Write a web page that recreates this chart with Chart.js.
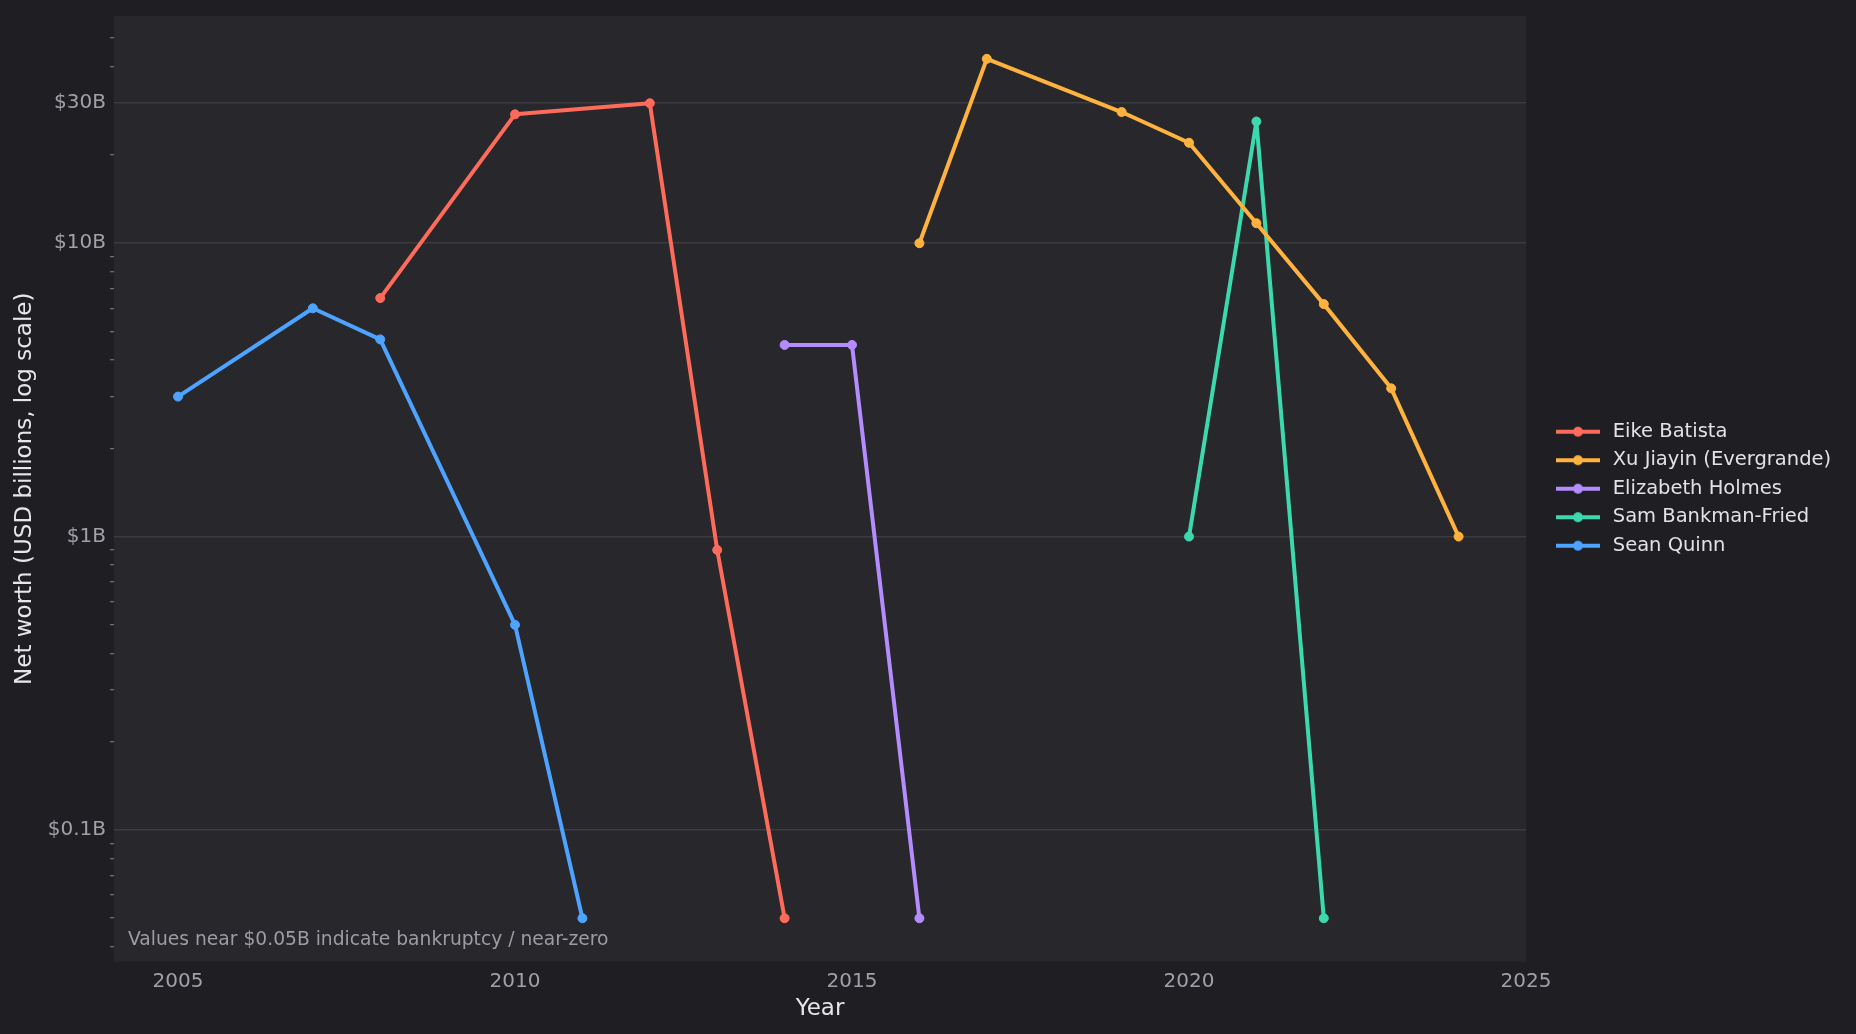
<!DOCTYPE html>
<html><head><meta charset="utf-8">
<script src="https://cdn.jsdelivr.net/npm/chart.js@4.4.1/dist/chart.umd.min.js"></script>
<style>html,body{margin:0;padding:0;background:#1f1f23;overflow:hidden}#wrap{width:1856px;height:1034px}</style>
</head><body><div id="wrap"><canvas id="c" width="1856" height="1034" style="width:1856px;height:1034px"></canvas></div>
<script>
const seriesNames = ['Eike Batista','Xu Jiayin (Evergrande)','Elizabeth Holmes','Sam Bankman-Fried','Sean Quinn'];
const seriesColors = ['#ff6b5b','#ffb23e','#b48cff','#3dd9ae','#4da3ff'];
const batistaYears = [2008,2010,2012,2013,2014];
const batistaValues = [6.5,27.5,30,0.9,0.05];
const xuYears = [2016,2017,2019,2020,2021,2022,2023,2024];
const xuValues = [10,42.5,28,22,11.7,6.2,3.2,1];
const holmesYears = [2014,2015,2016];
const holmesValues = [4.5,4.5,0.05];
const sbfYears = [2020,2021,2022];
const sbfValues = [1,26,0.05];
const quinnYears = [2005,2007,2008,2010,2011];
const quinnValues = [3,6,4.7,0.5,0.05];
const xTicks = [2005,2010,2015,2020,2025];
const yLabeledTicks = [0.1,1,10,30];
const yTickLabels = ['$0.1B','$1B','$10B','$30B'];
const xTitle = 'Year';
const yTitle = 'Net worth (USD billions, log scale)';
const noteText = 'Values near $0.05B indicate bankruptcy / near-zero';

const allYears = [batistaYears,xuYears,holmesYears,sbfYears,quinnYears];
const allValues = [batistaValues,xuValues,holmesValues,sbfValues,quinnValues];

const FONT = '"DejaVu Sans", sans-serif';
const legendFontSize = 19.5;
const legendPad = 9;
const boxW = 68;
const targetRight = 1526;

function labelIndex(v){ for(let i=0;i<yLabeledTicks.length;i++){ if(Math.abs(v-yLabeledTicks[i])/yLabeledTicks[i]<1e-6) return i;} return -1; }

const mctx = document.createElement('canvas').getContext('2d');
mctx.font = legendFontSize + 'px ' + FONT;
let maxW = 0; seriesNames.forEach(n=>{maxW=Math.max(maxW,mctx.measureText(n).width);});
const legendWidth = legendPad + boxW + legendFontSize/2 + maxW + 10;
const padRight = Math.max(0, 1856 - targetRight - legendWidth);
const legendLeft = 1856 - padRight - legendWidth;
const imgCenter = legendLeft + legendPad + boxW/2;
const wantCenter = 1578;
const off = wantCenter - imgCenter;

function legendImage(color){
  const cv = document.createElement('canvas');
  const w = Math.ceil(2*(22+Math.abs(off))+12); cv.width = w; cv.height = 12;
  const c = cv.getContext('2d');
  const cx = w/2 + off;
  c.strokeStyle = color; c.lineWidth = 4; c.lineCap='butt';
  c.beginPath(); c.moveTo(cx-22,6); c.lineTo(cx+22,6); c.stroke();
  c.fillStyle = color; c.beginPath(); c.arc(cx,6,5,0,Math.PI*2); c.fill();
  return cv;
}

const datasets = seriesNames.map((n,i)=>({
  label:n,
  data: allYears[i].map((yr,j)=>({x:yr,y:allValues[i][j]})),
  borderColor: seriesColors[i], backgroundColor: seriesColors[i],
  pointBackgroundColor: seriesColors[i], pointBorderColor: seriesColors[i],
  borderWidth:4, borderJoinStyle:'round', pointRadius:4.5, pointBorderWidth:1, tension:0, fill:false,
  legendImg: legendImage(seriesColors[i])
}));

const bgPlugin = {
  id:'bg',
  afterLayout(chart){
    if(chart.legend){ chart.legend.top = chart.chartArea.top; chart.legend.bottom = chart.chartArea.bottom; }
  },
  beforeDraw(chart){
    const {ctx, chartArea:a} = chart;
    ctx.save(); ctx.fillStyle = '#1f1f23'; ctx.fillRect(0,0,chart.width,chart.height);
    ctx.fillStyle = '#27272c'; ctx.fillRect(a.left,a.top,a.right-a.left,a.bottom-a.top); ctx.restore();
  },
  afterDatasetsDraw(chart){
    const {ctx, chartArea:a} = chart;
    ctx.save(); ctx.font = '18.7px ' + FONT; ctx.fillStyle = '#9c9ca3'; ctx.textBaseline='alphabetic'; ctx.textAlign='left';
    ctx.fillText(noteText, a.left+14, a.bottom-17); ctx.restore();
  }
};

new Chart(document.getElementById('c'), {
  type:'line',
  data:{datasets},
  plugins:[bgPlugin],
  options:{
    responsive:false, animation:false, devicePixelRatio:1,
    layout:{padding:{left:7,top:15,bottom:7.5,right:padRight}},
    plugins:{
      legend:{position:'right', align:'center',
        labels:{usePointStyle:true, pointStyleWidth:boxW, boxHeight:20, padding:legendPad, color:'#e2e2e6',
          font:{family:FONT,size:legendFontSize},
          generateLabels(chart){ return chart.data.datasets.map((d,i)=>({text:d.label, pointStyle:d.legendImg, fillStyle:d.borderColor, strokeStyle:d.borderColor, lineWidth:0, hidden:false, datasetIndex:i, fontColor:'#e2e2e6'})); }
        }},
      tooltip:{enabled:false}
    },
    scales:{
      x:{type:'linear', min:2004.05, max:2025,
        afterBuildTicks(s){ s.ticks = xTicks.map(v=>({value:v})); },
        afterFit(s){ s.height = 65; },
        grid:{display:false}, border:{display:false},
        ticks:{color:'#a0a0a7', font:{family:FONT,size:20}, padding:0, callback:v=>String(v), maxRotation:0},
        title:{display:true, text:xTitle, color:'#e6e6ea', font:{family:FONT,size:23}}
      },
      y:{type:'logarithmic', min:0.0356, max:59.5,
        afterBuildTicks(s){
          const t=[];
          for(let e=-2;e<=1;e++){ for(let m=1;m<=9;m++){ const v=+(m*Math.pow(10,e)).toPrecision(6); if(v>=s.min && v<=s.max) t.push({value:v, major: labelIndex(v)>=0}); } }
          s.ticks = t;
        },
        afterFit(s){ s.width = 107; },
        border:{display:false},
        grid:{drawTicks:true, tickLength:4, lineWidth:1.5, tickWidth:1,
          color:c=> (c.tick && labelIndex(c.tick.value)>=0) ? '#3b3b41' : 'rgba(0,0,0,0)',
          tickColor:c=> (c.tick && labelIndex(c.tick.value)>=0) ? 'rgba(0,0,0,0)' : '#85858c'},
        ticks:{color:'#a0a0a7', font:{family:FONT,size:20}, padding:4, autoSkip:false,
          callback:(v)=>{ const i=labelIndex(v); return i>=0 ? yTickLabels[i] : ''; }},
        title:{display:true, text:yTitle, color:'#e6e6ea', font:{family:FONT,size:23}}
      }
    }
  }
});
</script></body></html>
